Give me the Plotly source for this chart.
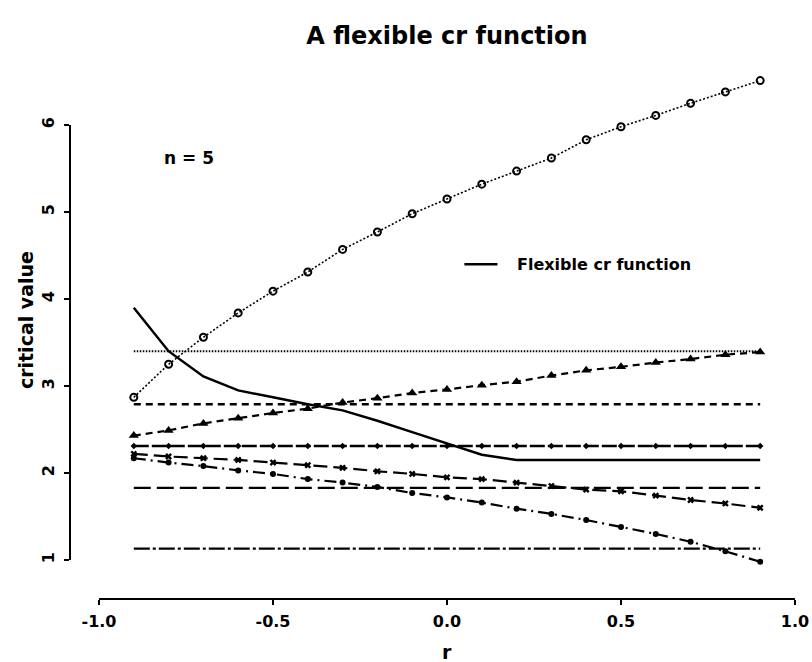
import plotly.graph_objects as go

# correlation values along the x axis
r = [-0.9, -0.8, -0.7, -0.6, -0.5, -0.4, -0.3, -0.2, -0.1, 0.0,
     0.1, 0.2, 0.3, 0.4, 0.5, 0.6, 0.7, 0.8, 0.9]

# critical values that vary with r
cv_open_circles = [2.87, 3.25, 3.56, 3.84, 4.09, 4.31, 4.57, 4.77, 4.98, 5.15,
                   5.32, 5.47, 5.62, 5.83, 5.98, 6.11, 6.25, 6.38, 6.51]
cv_triangles = [2.43, 2.49, 2.57, 2.63, 2.69, 2.74, 2.81, 2.86, 2.92, 2.96,
                3.01, 3.05, 3.12, 3.18, 3.22, 3.27, 3.31, 3.36, 3.39]
cv_crosses = [2.22, 2.19, 2.17, 2.15, 2.12, 2.09, 2.06, 2.02, 1.99, 1.95,
              1.93, 1.89, 1.85, 1.81, 1.79, 1.74, 1.69, 1.65, 1.60]
cv_dots = [2.17, 2.12, 2.08, 2.03, 1.99, 1.93, 1.89, 1.84, 1.77, 1.72,
           1.66, 1.59, 1.53, 1.46, 1.38, 1.30, 1.21, 1.10, 0.98]
cv_flexible = [3.90, 3.40, 3.11, 2.95, 2.87, 2.79, 2.72, 2.60, 2.47, 2.34,
               2.21, 2.15, 2.15, 2.15, 2.15, 2.15, 2.15, 2.15, 2.15]

# critical values that do not depend on r
cv_const_dotted = 3.40
cv_const_dashed = 2.79
cv_const_marked = 2.31
cv_const_longdash = 1.83
cv_const_dashdot = 1.13

x_ticks = [-1.0, -0.5, 0.0, 0.5, 1.0]
x_ticktext = ["-1.0", "-0.5", "0.0", "0.5", "1.0"]
y_ticks = [1, 2, 3, 4, 5, 6]
y_ticktext = ["1", "2", "3", "4", "5", "6"]

title_text = "A flexible cr function"
legend_text = "Flexible cr function"
sample_text = "n = 5"
x_title = "r"
y_title = "critical value"

FONT = "DejaVu Sans, Verdana, sans-serif"
INK = "black"

fig = go.Figure()


def flat(level):
    return [level for _ in r]


# constant critical values
fig.add_trace(go.Scatter(x=r, y=flat(cv_const_dotted), mode="lines",
                         line=dict(color=INK, width=2, dash="1.5px,1.5px")))
fig.add_trace(go.Scatter(x=r, y=flat(cv_const_dashed), mode="lines",
                         line=dict(color=INK, width=2.5, dash="7px,5px")))
fig.add_trace(go.Scatter(x=r, y=flat(cv_const_marked), mode="lines+markers",
                         line=dict(color=INK, width=2.5, dash="15px,3px"),
                         marker=dict(symbol="diamond", size=5, color=INK)))
fig.add_trace(go.Scatter(x=r, y=flat(cv_const_longdash), mode="lines",
                         line=dict(color=INK, width=2.2, dash="17px,6px")))
fig.add_trace(go.Scatter(x=r, y=flat(cv_const_dashdot), mode="lines",
                         line=dict(color=INK, width=2.2, dash="16px,3px,3px,3px")))

# r-dependent critical values
fig.add_trace(go.Scatter(x=r, y=cv_open_circles, mode="lines+markers",
                         line=dict(color=INK, width=1.6, dash="2px,2px"),
                         marker=dict(symbol="circle-open", size=7, color=INK,
                                     line=dict(width=2, color=INK))))
fig.add_trace(go.Scatter(x=r, y=cv_triangles, mode="lines+markers",
                         line=dict(color=INK, width=2.2, dash="7px,5px"),
                         marker=dict(symbol="triangle-up", size=9, color=INK)))
fig.add_trace(go.Scatter(x=r, y=cv_crosses, mode="lines+markers",
                         line=dict(color=INK, width=2.2, dash="14px,6px"),
                         marker=dict(symbol="x", size=6, color=INK)))
fig.add_trace(go.Scatter(x=r, y=cv_dots, mode="lines+markers",
                         line=dict(color=INK, width=2.2, dash="12px,5px,2px,5px"),
                         marker=dict(symbol="circle", size=6, color=INK)))
fig.add_trace(go.Scatter(x=r, y=cv_flexible, mode="lines",
                         line=dict(color=INK, width=2.5)))

# axis lines spanning the first to the last tick
fig.add_shape(type="line", xref="x", yref="paper", x0=x_ticks[0], x1=x_ticks[-1],
              y0=0, y1=0, line=dict(color=INK, width=2))
fig.add_shape(type="line", xref="paper", yref="y", x0=0, x1=0,
              y0=y_ticks[0], y1=y_ticks[-1], line=dict(color=INK, width=2))

# legend entry for the flexible function
fig.add_shape(type="line", xref="x", yref="y", x0=0.05, x1=0.145, y0=4.40, y1=4.40,
              line=dict(color=INK, width=2.5))
fig.add_annotation(x=0.195, y=4.40, xref="x", yref="y", text=legend_text,
                   showarrow=False, xanchor="left", yanchor="middle",
                   font=dict(family=FONT, size=16, color=INK, weight="bold"))

fig.add_annotation(x=-0.74, y=5.62, xref="x", yref="y", text=sample_text,
                   showarrow=False, xanchor="center", yanchor="middle",
                   font=dict(family=FONT, size=17, color=INK, weight="bold"))

# axis titles
fig.add_annotation(x=0.0, y=-0.099, xref="x", yref="paper", text=x_title,
                   showarrow=False, xanchor="center", yanchor="middle",
                   font=dict(family=FONT, size=19, color=INK, weight="bold"))
fig.add_annotation(x=-0.059, y=3.76, xref="paper", yref="y", text=y_title,
                   showarrow=False, textangle=-90, xanchor="center", yanchor="middle",
                   font=dict(family=FONT, size=19, color=INK, weight="bold"))

axis_font = dict(family=FONT, size=16, color=INK, weight="bold")

fig.update_layout(
    width=812, height=662,
    margin=dict(l=70, r=0, t=62, b=63),
    paper_bgcolor="white", plot_bgcolor="white",
    showlegend=False,
    title=dict(text=title_text, x=0.5505, xref="container", xanchor="center",
               y=1 - 36 / 662, yref="container", yanchor="middle",
               font=dict(family=FONT, size=24, color=INK, weight="bold")),
    xaxis=dict(range=[-1.0833, 1.0489], tickvals=x_ticks, ticktext=x_ticktext,
               ticks="outside", ticklen=5, tickwidth=2, tickcolor=INK,
               showgrid=False, zeroline=False, showline=False,
               tickfont=axis_font, ticklabelstandoff=3),
    yaxis=dict(range=[0.552, 6.724], tickvals=y_ticks, ticktext=y_ticktext,
               ticks="outside", ticklen=5, tickwidth=2, tickcolor=INK,
               showgrid=False, zeroline=False, showline=False,
               tickangle=-90, tickfont=axis_font, ticklabelstandoff=4),
)

fig.write_html("out.html")
